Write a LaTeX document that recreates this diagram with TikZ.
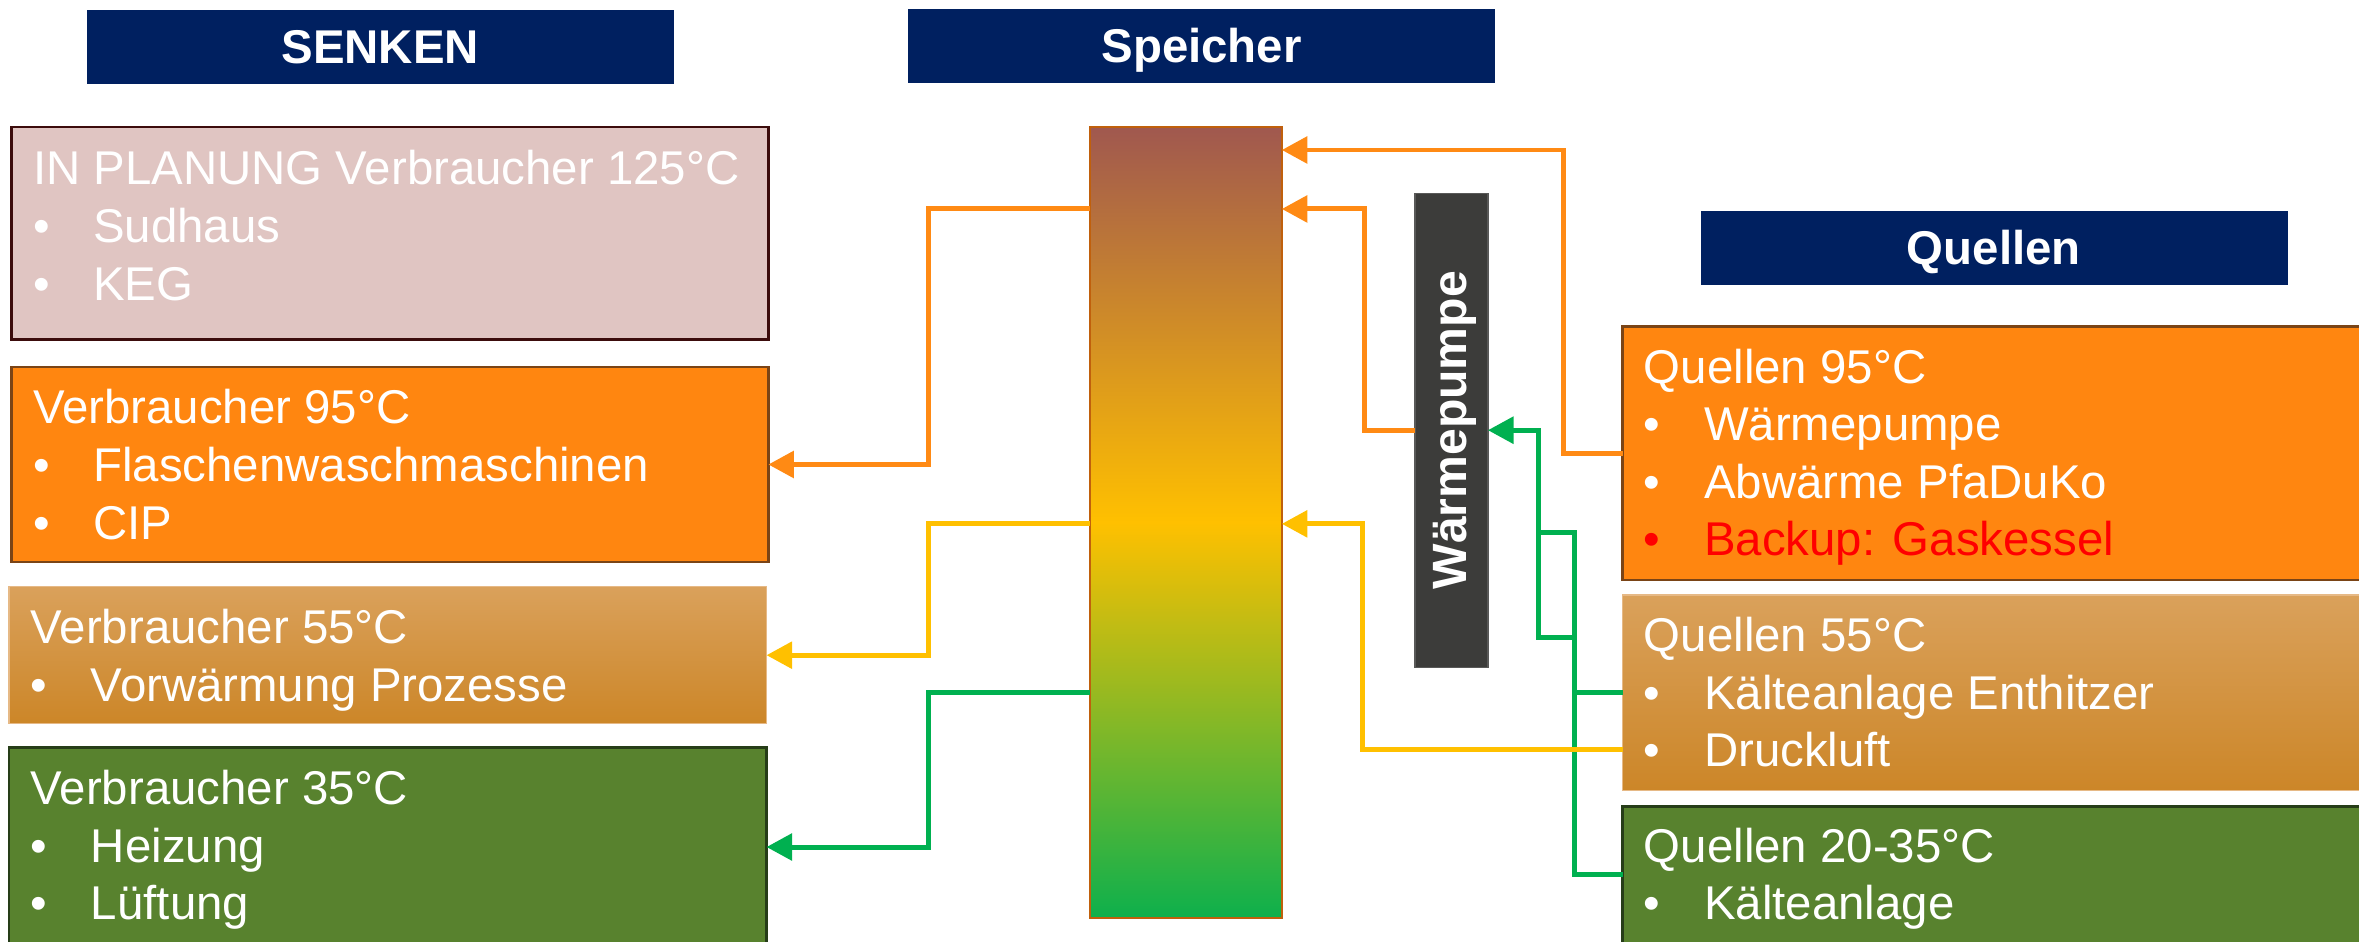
\documentclass[tikz,border=0pt]{standalone}
\usepackage{fontspec}
\setmainfont{Liberation Sans}
\usetikzlibrary{arrows.meta}

\definecolor{navy}{HTML}{002060}
\definecolor{hot}{HTML}{FF8610}
\definecolor{hotedge}{HTML}{7A4416}
\definecolor{pinkfill}{HTML}{E0C5C2}
\definecolor{pinkedge}{HTML}{3C0C0C}
\definecolor{warmtop}{HTML}{DAA15B}
\definecolor{warmbot}{HTML}{CC8628}
\definecolor{warmedge}{HTML}{E6B986}
\definecolor{leaf}{HTML}{58822E}
\definecolor{leafedge}{HTML}{263D18}
\definecolor{pumpgrey}{HTML}{3C3C3A}
\definecolor{lineorange}{HTML}{FF8A14}
\definecolor{lineyellow}{HTML}{FFC000}
\definecolor{linegreen}{HTML}{00B050}
\definecolor{tanktop}{HTML}{A0584F}
\definecolor{tankmid}{HTML}{FFC000}
\definecolor{tankbot}{HTML}{0EB04C}
\definecolor{tankedge}{HTML}{C0600C}
\definecolor{alertred}{HTML}{FF0000}

% one line of a list: bullet, then the entry
\newcommand\flowitem[2][white]{\hbox{\color{#1}\makebox[40pt][l]{\textbullet}#2}}
% a stack of lines whose baseline is that of the first line
\newcommand\flowlines[1]{\vtop{#1}}

\tikzset{
  header/.style={fill=navy, draw=navy, inner sep=0pt, outer sep=0pt,
    minimum width=389.4pt, minimum height=48.5pt, text=white,
    text height=22.6pt, text depth=0pt,
    font=\bfseries\fontsize{31.5}{36}\selectfont, anchor=north west},
  panel/.style={anchor=north west, inner sep=0pt, outer sep=0pt, line width=1.8pt},
  paneltext/.style={anchor=base west, inner sep=0pt, outer sep=0pt, text=white,
    font=\fontsize{31.5}{38.3}\selectfont},
  pipe/.style={line width=3.3pt, line join=miter},
  flowarrow/.style={-{Triangle[length=17pt,width=17.5pt]}},
}

\begin{document}
\begin{tikzpicture}[x=1pt,y=-1pt]
\useasboundingbox (0,0) rectangle (1568,625.5);
\clip (0,0) rectangle (1568,625.5);

% column headers
\node[header] (hS)  at (58,6.6)      {SENKEN};
\node[header] (hSp) at (604,6.3)     {Speicher};
\node[header] (hQ)  at (1130.6,140.3) {Quellen};

% sinks
\node[panel, fill=pinkfill, draw=pinkedge, minimum width=503.2pt, minimum height=141.1pt] (s125) at (7.5,84.4) {};
\node[panel, fill=hot, draw=hotedge, minimum width=503.2pt, minimum height=129.5pt] (s95) at (7.5,244) {};
\node[panel, top color=warmtop, bottom color=warmbot, draw=warmedge, line width=1pt,
      minimum width=503.5pt, minimum height=91pt] (s55) at (6,390) {};
\node[panel, fill=leaf, draw=leafedge, minimum width=503.5pt, minimum height=132pt] (s35) at (6,497) {};

% sources
\node[panel, fill=hot, draw=hotedge, minimum width=530pt, minimum height=168.5pt] (q95) at (1078.5,217) {};
\node[panel, top color=warmtop, bottom color=warmbot, draw=warmedge, line width=1pt,
      minimum width=530pt, minimum height=130pt] (q55) at (1078.5,395.5) {};
\node[panel, fill=leaf, draw=leafedge, minimum width=530pt, minimum height=110pt] (q20) at (1078.5,536) {};

% stratified storage tank
\node[panel, draw=tankedge, line width=1.3pt, top color=tanktop, bottom color=tankbot,
      middle color=tankmid, minimum width=127.5pt, minimum height=525.4pt] (sp) at (724.5,84.6) {};

% heat pump
\node[panel, fill=pumpgrey, draw=pumpgrey!85!white, line width=0.8pt,
      minimum width=48.5pt, minimum height=315.1pt] (wp) at (940.5,128.4) {};
\node[rotate=90, text=white, inner sep=0pt, font=\bfseries\fontsize{32}{38}\selectfont]
      (wptext) at ([xshift=2pt]wp.center) {Wärmepumpe};

% panel texts
\node[paneltext] (t125) at ([xshift=14.5pt,yshift=-38.5pt]s125.north west)
  {\flowlines{\hbox{IN PLANUNG Verbraucher 125°C}\flowitem{Sudhaus}\flowitem{KEG}}};
\node[paneltext] (t95) at ([xshift=14.5pt,yshift=-37.8pt]s95.north west)
  {\flowlines{\hbox{Verbraucher 95°C}\flowitem{Flaschenwaschmaschinen}\flowitem{CIP}}};
\node[paneltext] (t55) at ([xshift=14.5pt,yshift=-38pt]s55.north west)
  {\flowlines{\hbox{Verbraucher 55°C}\flowitem{Vorwärmung Prozesse}}};
\node[paneltext] (t35) at ([xshift=14.5pt,yshift=-37.8pt]s35.north west)
  {\flowlines{\hbox{Verbraucher 35°C}\flowitem{Heizung}\flowitem{Lüftung}}};
\node[paneltext] (tq95) at ([xshift=14.2pt,yshift=-37.6pt]q95.north west)
  {\flowlines{\hbox{Quellen 95°C}\flowitem{Wärmepumpe}\flowitem{Abwärme PfaDuKo}\flowitem[alertred]{Backup: Gaskessel}}};
\node[paneltext] (tq55) at ([xshift=14.2pt,yshift=-37.7pt]q55.north west)
  {\flowlines{\hbox{Quellen 55°C}\flowitem{Kälteanlage Enthitzer}\flowitem{Druckluft}}};
\node[paneltext] (tq20) at ([xshift=14.2pt,yshift=-37pt]q20.north west)
  {\flowlines{\hbox{Quellen 20-35°C}\flowitem{Kälteanlage}}};

% routing helpers
\coordinate (lx)  at (617.2,0);
\coordinate (ox1) at (1039.1,0);
\coordinate (ox2) at (906.8,0);
\coordinate (yx)  at (905.6,0);
\coordinate (gx1) at (1022.5,0);
\coordinate (gx2) at (1046.8,0);
\coordinate (hA)  at (0,99.7);
\coordinate (hB)  at (0,138.9);
\coordinate (hY)  at (0,348.2);
\coordinate (hG)  at (0,460.5);
\coordinate (yD)  at (0,498.5);
\coordinate (gtop) at (0,354);
\coordinate (gbot) at (0,423.6);
\coordinate (gq55) at (0,460.4);
\coordinate (gq20) at (0,581);

% tank to sinks
\draw[pipe, lineorange, flowarrow] (sp.west |- hB) -| (lx |- s95.east) -- (s95.east);
\draw[pipe, lineyellow, flowarrow] (sp.west |- hY) -| (lx |- s55.east) -- (s55.east);
\draw[pipe, linegreen, flowarrow]  (sp.west |- hG) -| (lx |- s35.east) -- (s35.east);

% low-temperature sources to heat pump
\draw[pipe, linegreen, flowarrow] (q20.west |- gq20) -| (gx2 |- gtop) -| (gx1 |- wp.east) -- (wp.east);
\draw[pipe, linegreen] (q55.west |- gq55) -- (gx2 |- gq55);
\draw[pipe, linegreen] (gx2 |- gbot) -| (gx1 |- gtop);

% sources and heat pump to tank
\draw[pipe, lineyellow, flowarrow] (q55.west |- yD) -| (yx |- hY) -- (sp.east |- hY);
\draw[pipe, lineorange, flowarrow] (q95.west) -| (ox1 |- hA) -- (sp.east |- hA);
\draw[pipe, lineorange, flowarrow] (wp.west) -| (ox2 |- hB) -- (sp.east |- hB);
\end{tikzpicture}
\end{document}
